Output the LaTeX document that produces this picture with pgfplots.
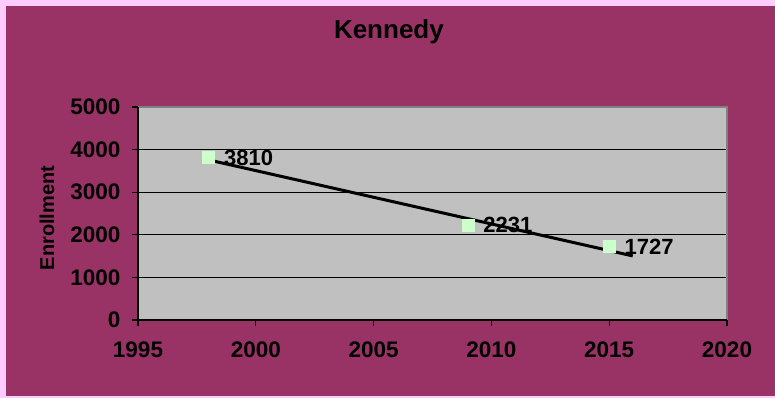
\documentclass[border=0pt]{standalone}
\usepackage{fontspec}
\setmainfont{Liberation Sans}
\usepackage{pgfplots}
\pgfplotsset{compat=1.18}
\definecolor{bgmaroon}{HTML}{993366}
\definecolor{bgpink}{HTML}{FFCCFF}
\definecolor{plotgrey}{HTML}{C0C0C0}
\definecolor{shadegrey}{HTML}{808080}
\definecolor{markgreen}{HTML}{CCFFCC}
\begin{document}
\begin{tikzpicture}
\fill[bgpink] (0,0) rectangle (775bp,398bp);
\fill[bgmaroon] (6bp,2bp) rectangle (775bp,392bp);
\begin{axis}[
 at={(138bp,78bp)}, anchor=south west,
 scale only axis, width=589bp, height=213bp,
 xmin=1995, xmax=2020, ymin=0, ymax=5000,
 xtick={1995,2000,...,2020}, ytick={0,1000,...,5000},
 xtick pos=bottom, ytick pos=left,
 axis background/.style={fill=plotgrey},
 axis line style={draw=none},
 ymajorgrids, grid style={black, line width=1bp},
 tick align=outside, major tick length=6bp, tick style={black, line width=1.2bp},
 /pgf/number format/1000 sep={},
 ticklabel style={font=\fontsize{22.5bp}{26bp}\selectfont\bfseries},
 x tick label style={yshift=-12bp},
 y tick label style={xshift=-8bp},
 /pgf/number format/assume math mode=true,
 title={Kennedy},
 title style={font=\fontsize{26bp}{30bp}\selectfont\bfseries, at={(axis description cs:0.426,1.324)}, anchor=center},
 ylabel={Enrollment},
 ylabel style={font=\fontsize{20bp}{24bp}\selectfont\bfseries, at={(axis description cs:-0.1545,0.479)}, anchor=center},
 clip=false,
]
\addplot[only marks, mark=square*, mark size=6bp, mark options={fill=markgreen, draw=markgreen},
  nodes near coords, point meta=explicit symbolic,
  nodes near coords style={anchor=west, xshift=12bp, text=black, font=\fontsize{22bp}{26bp}\selectfont\bfseries}]
  table[meta=label] {
x y label
1998 3810 3810
2009 2231 2231
2015 1727 1727
};
\addplot[black, line width=3bp] coordinates {(1998,3757) (2016,1504)};
\draw[shadegrey, line width=2bp] (rel axis cs:0,1) -- (rel axis cs:1,1) -- (rel axis cs:1,0);
\draw[black, line width=1.2bp] (rel axis cs:0,1) -- (rel axis cs:0,0) -- (rel axis cs:1,0);
\end{axis}
\end{tikzpicture}
\end{document}
